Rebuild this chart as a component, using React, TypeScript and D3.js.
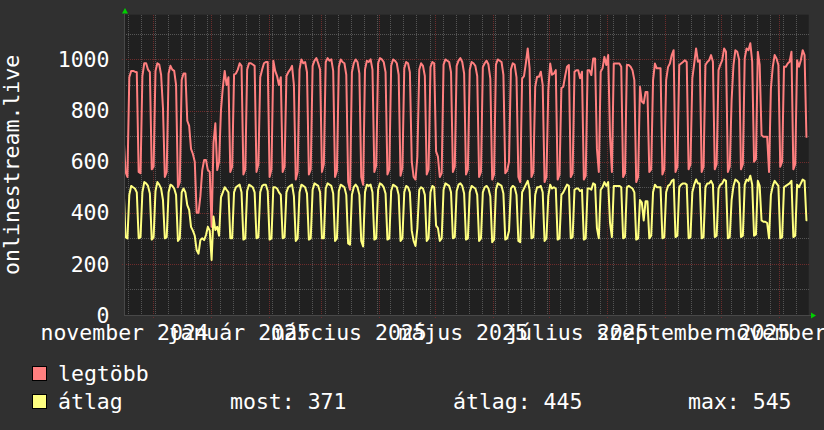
import React from 'react';
import * as d3 from 'd3';

const W = 824;
const H = 430;

// daily values, first entry = Fri 2024-11-15, then weekly rows Mon..Sun
const redVals: number[] = [
  690, 560, 540,
  930, 955, 955, 952, 950, 560, 555,
  935, 985, 985, 960, 950, 570, 580,
  955, 985, 980, 940, 810, 540, 560,
  945, 975, 960, 955, 900, 500, 520,
  920, 945, 945, 760, 740, 650, 630,
  600, 400, 400, 465, 567, 606, 606,
  567, 560, 345, 672, 750, 567, 600,
  800, 890, 955, 900, 930, 560, 580,
  940, 945, 960, 985, 975, 550, 570,
  960, 985, 985, 980, 975, 560, 590,
  930, 960, 985, 990, 990, 540, 570,
  995, 955, 935, 900, 930, 560, 580,
  935, 950, 960, 975, 900, 530, 560,
  960, 1000, 985, 990, 950, 550, 570,
  975, 995, 1005, 985, 960, 560, 590,
  990, 1005, 995, 1000, 955, 540, 565,
  970, 1000, 990, 985, 940, 520, 490,
  950, 985, 1000, 990, 945, 540, 510,
  960, 995, 990, 1000, 960, 560, 585,
  985, 1005, 1000, 990, 950, 550, 570,
  975, 1000, 995, 985, 940, 545, 575,
  965, 990, 985, 950, 600, 540, 530,
  620, 960, 985, 975, 935, 550, 570,
  970, 990, 985, 640, 620, 540, 555,
  980, 1000, 995, 990, 950, 560, 580,
  975, 995, 1005, 990, 945, 550, 570,
  960, 990, 985, 975, 935, 540, 560,
  970, 985, 995, 980, 925, 530, 550,
  980, 1000, 995, 990, 940, 555, 565,
  600, 960, 985, 980, 930, 540, 520,
  925, 935, 985, 1043, 965, 540, 560,
  893, 932, 932, 952, 900, 520, 540,
  880, 984, 940, 945, 958, 530, 550,
  887, 893, 935, 971, 978, 540, 555,
  952, 958, 958, 926, 952, 530, 545,
  958, 958, 939, 1004, 1004, 650, 560,
  952, 965, 1010, 978, 1017, 700, 560,
  984, 984, 984, 984, 971, 540, 555,
  978, 978, 971, 958, 919, 520, 540,
  893, 835, 828, 873, 873, 560, 570,
  919, 984, 965, 965, 965, 550, 570,
  919, 970, 984, 1017, 1036, 560, 580,
  978, 984, 990, 997, 990, 570, 590,
  926, 984, 1043, 991, 997, 560, 580,
  978, 990, 997, 1017, 991, 570, 590,
  958, 980, 997, 1043, 1030, 560, 580,
  841, 978, 1036, 1030, 1000, 570, 590,
  1004, 1043, 1036, 1063, 991, 600, 610,
  1030, 980, 704, 697, 697, 697, 560,
  887, 971, 1017, 1004, 978, 580, 600,
  971, 971, 984, 991, 1030, 570, 590,
  997, 971, 997, 1036, 1017, 697,
];

const yellowVals: number[] = [
  490, 305, 300,
  470, 505, 500, 495, 480, 300, 305,
  480, 520, 515, 505, 475, 295, 305,
  485, 520, 510, 495, 450, 300, 305,
  480, 510, 505, 495, 470, 290, 300,
  480, 495, 480, 430, 411, 345, 330,
  310, 254, 240, 293, 300, 293, 313,
  345, 330, 215, 385, 333, 345, 310,
  460, 480, 500, 490, 480, 300, 300,
  480, 500, 505, 510, 480, 295, 300,
  485, 510, 505, 500, 480, 300, 305,
  480, 505, 510, 510, 485, 295, 300,
  500, 500, 495, 480, 470, 300, 305,
  480, 500, 505, 510, 465, 290, 300,
  480, 510, 505, 500, 475, 295, 300,
  490, 515, 510, 505, 480, 300, 300,
  495, 515, 510, 505, 475, 290, 300,
  485, 510, 505, 500, 470, 280, 275,
  470, 500, 510, 500, 470, 290, 268,
  480, 510, 505, 510, 480, 295, 300,
  490, 515, 510, 500, 475, 295, 300,
  485, 510, 505, 500, 470, 290, 300,
  480, 505, 500, 480, 330, 290, 270,
  340, 490, 500, 495, 470, 290, 300,
  480, 505, 500, 350, 340, 290, 300,
  490, 515, 510, 505, 480, 300, 305,
  485, 510, 515, 505, 475, 295, 300,
  480, 505, 500, 495, 470, 290, 300,
  480, 500, 505, 495, 465, 285, 295,
  490, 515, 510, 505, 475, 295, 300,
  330, 495, 505, 500, 470, 290, 285,
  480, 495, 510, 525, 490, 300, 305,
  470, 500, 500, 505, 480, 290, 300,
  465, 510, 495, 500, 495, 295, 300,
  470, 480, 495, 510, 505, 300, 305,
  490, 495, 495, 485, 490, 295, 300,
  495, 495, 490, 515, 510, 340, 300,
  490, 500, 520, 505, 520, 360, 305,
  505, 505, 505, 505, 500, 300, 305,
  500, 505, 500, 495, 480, 295, 300,
  450, 440, 370, 445, 445, 300, 310,
  480, 510, 500, 500, 500, 300, 305,
  480, 505, 510, 525, 530, 305, 310,
  500, 510, 515, 515, 510, 300, 305,
  480, 510, 530, 515, 515, 300, 305,
  500, 515, 515, 525, 510, 305, 310,
  495, 510, 515, 530, 525, 300, 305,
  450, 505, 530, 525, 515, 305, 310,
  510, 530, 525, 545, 510, 310, 315,
  525, 505, 370, 365, 365, 360, 300,
  470, 505, 525, 515, 505, 300, 305,
  500, 505, 510, 515, 525, 305, 310,
  510, 500, 515, 530, 525, 371,
];

const yTicks = [0, 200, 400, 600, 800, 1000];
const xLabels = ['november 2024', 'január 2025', 'március 2025', 'május 2025', 'július 2025', 'szeptember 2025', 'november 2025'];
const xLabelMonths = [[2024, 10], [2025, 0], [2025, 2], [2025, 4], [2025, 6], [2025, 8], [2025, 10]];
const legendNames = ['legtöbb', 'átlag'];
const legendColors = ['#ff7f7f', '#ffff80'];
const statLabels = ['most: 371', 'átlag: 445', 'max: 545'];
const statX = [230, 453, 688];

const FONT = '"DejaVu Sans Mono", monospace';
const FS = 21.5;

export default function App() {
  const left = 124, right = 808.7, top = 14.7, bottom = 315;
  const x = d3.scaleUtc()
    .domain([new Date(Date.UTC(2024, 10, 15, 16)), new Date(Date.UTC(2025, 10, 16, 17))])
    .range([left, right]);
  const y = d3.scaleLinear().domain([0, 1175]).range([bottom, top]);
  const t0 = Date.UTC(2024, 10, 15);
  const dateOf = (i: number) => new Date(t0 + i * 86400000);

  // each daily value is drawn at the middle of its day, ends extended to day borders
  const toPts = (vals: number[]): [Date, number][] => {
    const p: [Date, number][] = [[dateOf(0), vals[0]]];
    vals.forEach((v, i) => p.push([dateOf(i + 0.5), v]));
    p.push([dateOf(vals.length), vals[vals.length - 1]]);
    return p;
  };
  const line = d3.line<[Date, number]>()
    .x((d) => x(d[0]))
    .y((d) => y(d[1]));

  const [d0, d1] = x.domain();
  const mondays = d3.utcMonday.range(d0, d1);
  const months = d3.utcMonth.range(d0, d1);
  const minorY = d3.range(100, 1175, 200);
  const majorY = d3.range(200, 1175, 200);
  const px = (v: number) => Math.round(v) + 0.5;

  return (
    <svg width={W} height={H} style={{ display: 'block', position: 'absolute', left: 0, top: 0 }}>
      <defs>
        <clipPath id="plotclip">
          <rect x={left} y={top} width={right - left} height={bottom - top} />
        </clipPath>
      </defs>
      <rect x={0} y={0} width={W} height={H} fill="#303030" />
      <rect x={left} y={top} width={right - left} height={bottom - top} fill="#202020" />
      <g shapeRendering="crispEdges">
        {mondays.map((d, i) => (
          <line key={'m' + i} x1={px(x(d))} x2={px(x(d))} y1={top} y2={bottom}
            stroke="#555555" strokeDasharray="1,1" />
        ))}
        {minorY.map((v, i) => (
          <line key={'h' + i} x1={left} x2={right} y1={px(y(v))} y2={px(y(v))}
            stroke="#555555" strokeDasharray="1,1" />
        ))}
        {months.map((d, i) => (
          <line key={'M' + i} x1={px(x(d))} x2={px(x(d))} y1={top} y2={bottom + 3}
            stroke="#6e2c2c" strokeDasharray="1,1" />
        ))}
        {majorY.map((v, i) => (
          <line key={'H' + i} x1={left - 2} x2={right} y1={px(y(v))} y2={px(y(v))}
            stroke="#6e2c2c" strokeDasharray="1,1" />
        ))}
      </g>
      <g clipPath="url(#plotclip)">
        <path d={line(toPts(redVals)) || ''} fill="none" stroke={legendColors[0]} strokeWidth={2} strokeLinejoin="round" />
        <path d={line(toPts(yellowVals)) || ''} fill="none" stroke={legendColors[1]} strokeWidth={2} strokeLinejoin="round" />
      </g>
      <g shapeRendering="crispEdges">
        <line x1={left + 0.5} x2={left + 0.5} y1={top - 1} y2={bottom} stroke="#484848" />
        <line x1={left} x2={right + 3} y1={bottom + 0.5} y2={bottom + 0.5} stroke="#484848" />
      </g>
      <path d={`M${left + 1},8 L${left + 4},13.5 L${left - 2},13.5 Z`} fill="#00d000" />
      <path d={`M816,315.5 L811,312.5 L811,318.5 Z`} fill="#00d000" />
      <g fill="#ffffff" fontFamily={FONT} fontSize={FS}>
        {yTicks.map((v) => (
          <text key={v} x={109.5} y={y(v) + 7.7} textAnchor="end">{v}</text>
        ))}
        {xLabels.map((s, i) => {
          const [yy, mm] = xLabelMonths[i];
          const cx = x(new Date(Date.UTC(yy, mm, 16)));
          return <text key={s} x={cx} y={340} textAnchor="middle">{s}</text>;
        })}
        <text transform={`translate(18.5,${(top + bottom) / 2}) rotate(-90)`} textAnchor="middle">onlinestream.live</text>
        {legendNames.map((n, i) => (
          <g key={n}>
            <rect x={32.5} y={366.5 + i * 28} width={14} height={14} fill={legendColors[i]} stroke="#000" />
            <text x={58} y={381 + i * 28}>{n}</text>
          </g>
        ))}
        {statLabels.map((s, i) => (
          <text key={s} x={statX[i]} y={409}>{s}</text>
        ))}
      </g>
    </svg>
  );
}
